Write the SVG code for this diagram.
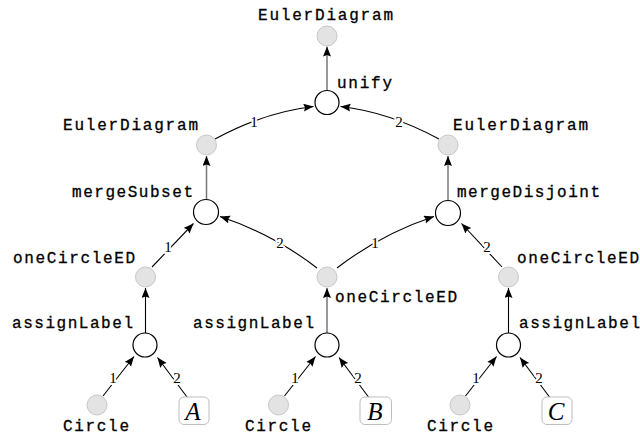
<svg xmlns="http://www.w3.org/2000/svg" width="640" height="437" viewBox="0 0 640 437">
<style>
.bg{fill:#ffffff}
.t{font-family:"Liberation Mono","DejaVu Sans Mono",monospace;font-size:16px;fill:#000;stroke:#000;stroke-width:0.3px}
.d{font-family:"Liberation Serif","DejaVu Serif",serif;font-size:15px;fill:#000;text-anchor:middle;stroke:#fff;stroke-width:4px;paint-order:stroke;stroke-linejoin:round}
.v{font-family:"Liberation Serif","DejaVu Serif",serif;font-style:italic;font-size:25px;fill:#000;text-anchor:middle}
.g{fill:#e3e3e3;stroke:#c8c8c8;stroke-width:1}
.o{fill:#fff;stroke:#000;stroke-width:1.2}
.b{fill:#fff;stroke:#bdbdbd;stroke-width:1}
.e{fill:none;stroke:#000;stroke-width:1.1;marker-end:url(#ah)}
.eg{fill:none;stroke:#777;stroke-width:1.5;marker-end:url(#ah)}
</style>
<defs>
<marker id="ah" markerUnits="userSpaceOnUse" markerWidth="12" markerHeight="10" refX="10" refY="4" orient="auto">
<path d="M0,0 L10,4 L0,8 L1.5,4 z" fill="#000"/>
</marker>
</defs>
<rect class="bg" x="0" y="0" width="640" height="437"/>
<g id="connectors">
<path class="eg" d="M327,90.5 L327,46.5"/>
<path class="e" d="M215,139 Q265,112 313.5,106.5"/>
<path class="e" d="M439,139 Q389,112 340.5,106.5"/>
<path class="eg" d="M206.5,199.5 L206.5,156"/>
<path class="eg" d="M448,200.5 L448,156"/>
<path class="e" d="M152,267 L193.5,223.5"/>
<path class="e" d="M317,268 Q273,234 220,216.5"/>
<path class="e" d="M337,268 Q381,234 434,216.5"/>
<path class="e" d="M502,267 L461.5,223.5"/>
<path class="e" d="M145.5,333 L145.5,288"/>
<path class="eg" d="M327,333 L327,288"/>
<path class="e" d="M508.5,333 L508.5,288"/>
<path class="e" d="M103,396 L134,356.5"/>
<path class="e" d="M187,397 L157.5,357.5"/>
<path class="e" d="M284.5,396 L315.5,356.5"/>
<path class="e" d="M368.5,397 L339,357.5"/>
<path class="e" d="M465.5,396 L496.5,356.5"/>
<path class="e" d="M549.5,397 L520,357.5"/>
<text class="d" x="254" y="127">1</text>
<text class="d" x="399" y="127">2</text>
<text class="d" x="168" y="252">1</text>
<text class="d" x="280" y="248">2</text>
<text class="d" x="375" y="248">1</text>
<text class="d" x="487" y="252">2</text>
<text class="d" x="113" y="383">1</text>
<text class="d" x="177" y="383">2</text>
<text class="d" x="295" y="383">1</text>
<text class="d" x="358" y="383">2</text>
<text class="d" x="476" y="383">1</text>
<text class="d" x="539" y="383">2</text>
</g>
<g id="n_top"><circle class="g" cx="327" cy="36" r="10"/><text class="t" x="258" y="20" textLength="135" lengthAdjust="spacing">EulerDiagram</text></g>
<g id="n_unify"><circle class="o" cx="327" cy="102.5" r="12"/><text class="t" x="337" y="88" textLength="55" lengthAdjust="spacing">unify</text></g>
<g id="n_ed_left"><circle class="g" cx="206.5" cy="145" r="10"/><text class="t" x="63" y="130" textLength="135" lengthAdjust="spacing">EulerDiagram</text></g>
<g id="n_ed_right"><circle class="g" cx="448" cy="145" r="10"/><text class="t" x="453" y="130" textLength="135" lengthAdjust="spacing">EulerDiagram</text></g>
<g id="n_mergeSubset"><circle class="o" cx="206" cy="212" r="12.5"/><text class="t" x="72" y="197" textLength="121" lengthAdjust="spacing">mergeSubset</text></g>
<g id="n_mergeDisjoint"><circle class="o" cx="448" cy="213" r="12.5"/><text class="t" x="457" y="197" textLength="143" lengthAdjust="spacing">mergeDisjoint</text></g>
<g id="n_oce_left"><circle class="g" cx="145.5" cy="277" r="10"/><text class="t" x="13" y="263" textLength="122" lengthAdjust="spacing">oneCircleED</text></g>
<g id="n_oce_mid"><circle class="g" cx="327" cy="277" r="10"/><text class="t" x="335" y="302" textLength="122" lengthAdjust="spacing">oneCircleED</text></g>
<g id="n_oce_right"><circle class="g" cx="508.5" cy="277" r="10"/><text class="t" x="517" y="263" textLength="122" lengthAdjust="spacing">oneCircleED</text></g>
<g id="n_al_left"><circle class="o" cx="145" cy="345" r="12"/><text class="t" x="12" y="328" textLength="121" lengthAdjust="spacing">assignLabel</text></g>
<g id="n_al_mid"><circle class="o" cx="327" cy="345" r="12"/><text class="t" x="193" y="328" textLength="121" lengthAdjust="spacing">assignLabel</text></g>
<g id="n_al_right"><circle class="o" cx="508.5" cy="345" r="12"/><text class="t" x="519" y="328" textLength="121" lengthAdjust="spacing">assignLabel</text></g>
<g id="n_c_left"><circle class="g" cx="97" cy="405" r="10"/><text class="t" x="63" y="431" textLength="66" lengthAdjust="spacing">Circle</text></g>
<g id="n_c_mid"><circle class="g" cx="278.5" cy="405" r="10"/><text class="t" x="245" y="431" textLength="66" lengthAdjust="spacing">Circle</text></g>
<g id="n_c_right"><circle class="g" cx="460" cy="405" r="10"/><text class="t" x="427" y="431" textLength="66" lengthAdjust="spacing">Circle</text></g>
<g id="n_A"><rect class="b" x="179" y="397" width="30" height="27.5" rx="5"/><text class="v" x="193" y="420">A</text></g>
<g id="n_B"><rect class="b" x="360" y="397" width="31.5" height="27.5" rx="5"/><text class="v" x="375" y="420">B</text></g>
<g id="n_C"><rect class="b" x="542" y="397" width="30" height="27.5" rx="5"/><text class="v" x="556" y="420">C</text></g>
</svg>
